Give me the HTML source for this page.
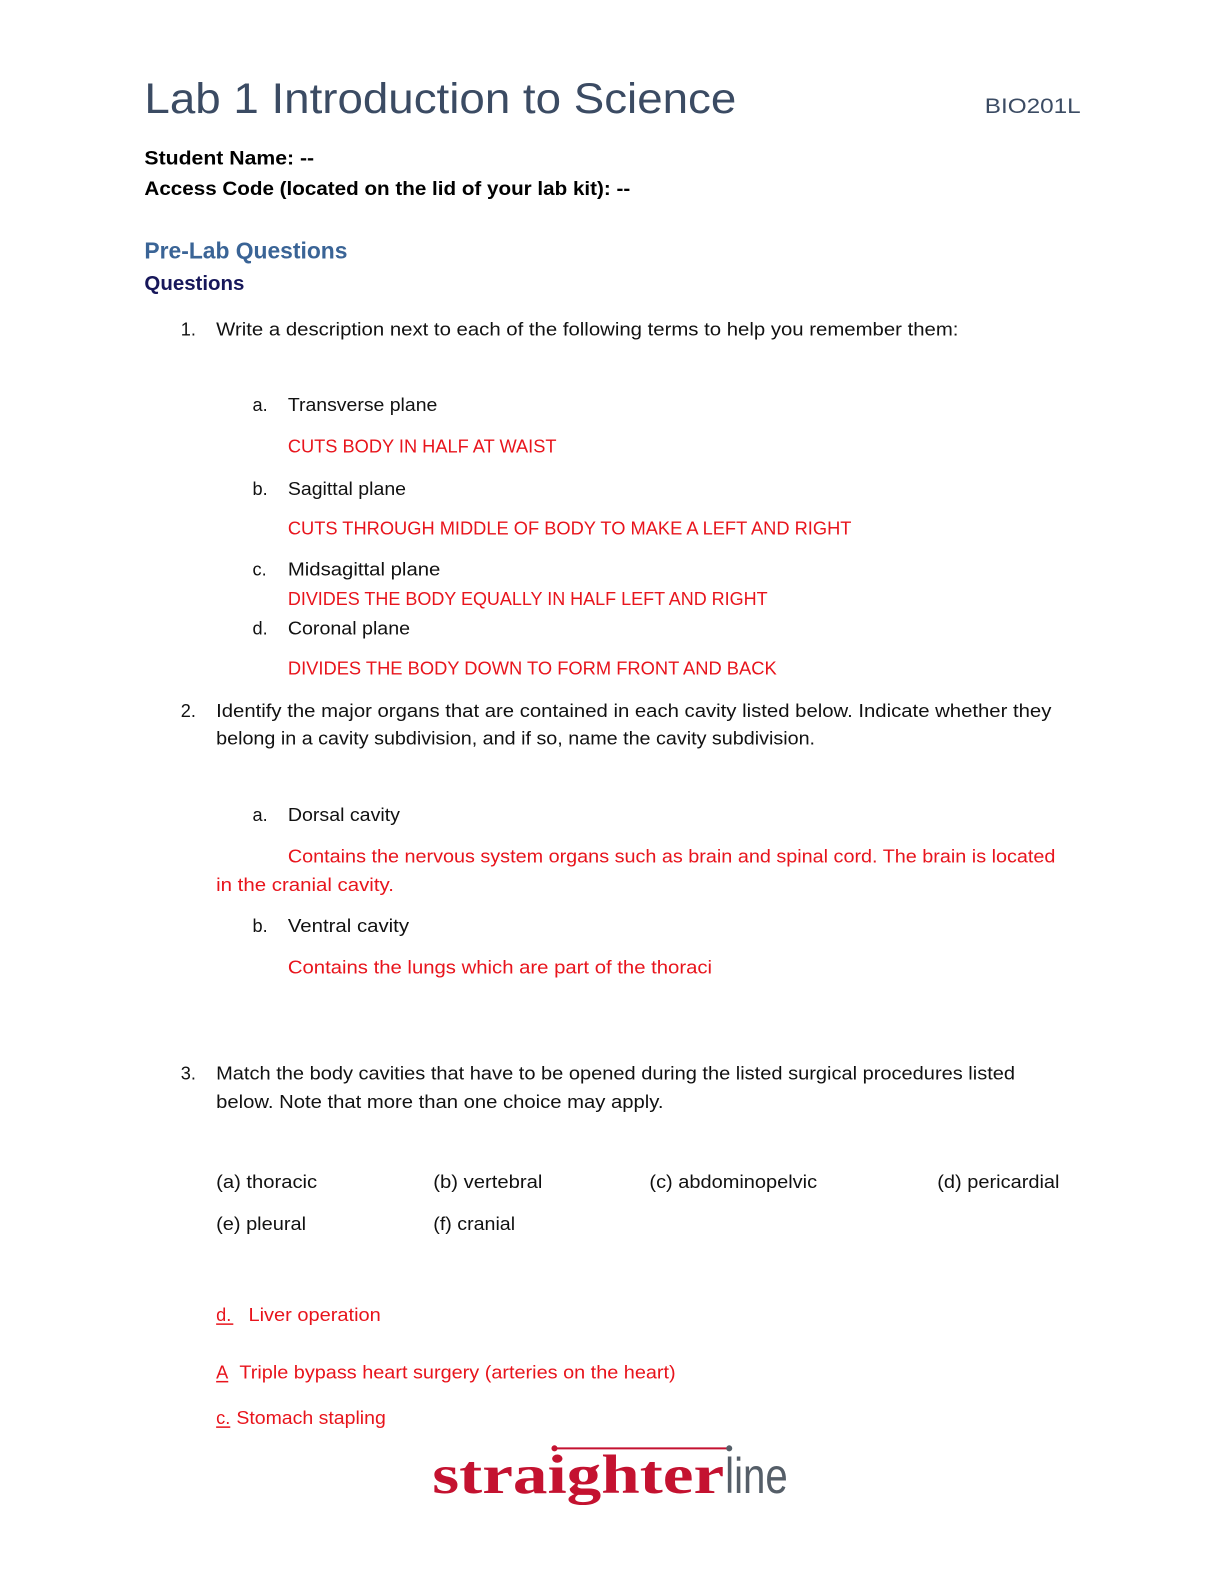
<!DOCTYPE html>
<html><head><meta charset="utf-8"><style>
html,body{margin:0;padding:0;background:#fff;width:1224px;height:1584px;overflow:hidden}
svg{display:block;position:absolute;left:0;top:0}
.b{font-family:"Liberation Sans",sans-serif;font-size:18px;fill:#111}
.r{fill:#e8141c}
</style></head><body>
<svg width="1224" height="1584" viewBox="0 0 1224 1584" xmlns="http://www.w3.org/2000/svg">
<g transform="scale(1.01)">
<text x="143" y="112" font-family="Liberation Sans,sans-serif" font-size="42" fill="#3b4b63" textLength="586" lengthAdjust="spacingAndGlyphs">Lab 1 Introduction to Science</text>
<text x="975" y="112" font-family="Liberation Sans,sans-serif" font-size="21" fill="#3b4b63" textLength="95" lengthAdjust="spacingAndGlyphs">BIO201L</text>
<g font-family="Liberation Sans,sans-serif" font-weight="bold" font-size="19" fill="#000">
<text x="143" y="163" textLength="168" lengthAdjust="spacingAndGlyphs">Student Name: --</text>
<text x="143" y="193" textLength="481" lengthAdjust="spacingAndGlyphs">Access Code (located on the lid of your lab kit): --</text>
</g>
<text x="143" y="256" font-family="Liberation Sans,sans-serif" font-weight="bold" font-size="23" fill="#3a6496" textLength="201" lengthAdjust="spacingAndGlyphs">Pre-Lab Questions</text>
<text x="143" y="287" font-family="Liberation Sans,sans-serif" font-weight="bold" font-size="20" fill="#17175a" textLength="99" lengthAdjust="spacingAndGlyphs">Questions</text>
<g class="b">
<text x="179" y="332">1.</text>
<text x="214" y="332" textLength="735" lengthAdjust="spacingAndGlyphs">Write a description next to each of the following terms to help you remember them:</text>
<text x="250" y="407">a.</text><text x="285" y="407" textLength="148" lengthAdjust="spacingAndGlyphs">Transverse plane</text>
<text x="285" y="448" class="r" textLength="266" lengthAdjust="spacingAndGlyphs">CUTS BODY IN HALF AT WAIST</text>
<text x="250" y="490">b.</text><text x="285" y="490" textLength="117" lengthAdjust="spacingAndGlyphs">Sagittal plane</text>
<text x="285" y="529" class="r" textLength="558" lengthAdjust="spacingAndGlyphs">CUTS THROUGH MIDDLE OF BODY TO MAKE A LEFT AND RIGHT</text>
<text x="250" y="570">c.</text><text x="285" y="570" textLength="151" lengthAdjust="spacingAndGlyphs">Midsagittal plane</text>
<text x="285" y="599" class="r" textLength="475" lengthAdjust="spacingAndGlyphs">DIVIDES THE BODY EQUALLY IN HALF LEFT AND RIGHT</text>
<text x="250" y="628">d.</text><text x="285" y="628" textLength="121" lengthAdjust="spacingAndGlyphs">Coronal plane</text>
<text x="285" y="668" class="r" textLength="484" lengthAdjust="spacingAndGlyphs">DIVIDES THE BODY DOWN TO FORM FRONT AND BACK</text>
<text x="179" y="710">2.</text>
<text x="214" y="710" textLength="827" lengthAdjust="spacingAndGlyphs">Identify the major organs that are contained in each cavity listed below.  Indicate whether they</text>
<text x="214" y="737" textLength="593" lengthAdjust="spacingAndGlyphs">belong in a cavity subdivision, and if so, name the cavity subdivision.</text>
<text x="250" y="813">a.</text><text x="285" y="813" textLength="111" lengthAdjust="spacingAndGlyphs">Dorsal cavity</text>
<text x="285" y="854" class="r" textLength="760" lengthAdjust="spacingAndGlyphs">Contains the nervous system organs such as brain and spinal cord. The brain is located</text>
<text x="214" y="882" class="r" textLength="176" lengthAdjust="spacingAndGlyphs">in the cranial cavity.</text>
<text x="250" y="923">b.</text><text x="285" y="923" textLength="120" lengthAdjust="spacingAndGlyphs">Ventral cavity</text>
<text x="285" y="964" class="r" textLength="420" lengthAdjust="spacingAndGlyphs">Contains the lungs which are part of the thoraci</text>
<text x="179" y="1069">3.</text>
<text x="214" y="1069" textLength="791" lengthAdjust="spacingAndGlyphs">Match the body cavities that have to be opened during the listed surgical procedures listed</text>
<text x="214" y="1097" textLength="443" lengthAdjust="spacingAndGlyphs">below. Note that more than one choice may apply.</text>
<text x="214" y="1176" textLength="100" lengthAdjust="spacingAndGlyphs">(a) thoracic</text>
<text x="429" y="1176" textLength="108" lengthAdjust="spacingAndGlyphs">(b) vertebral</text>
<text x="643" y="1176" textLength="166" lengthAdjust="spacingAndGlyphs">(c) abdominopelvic</text>
<text x="928" y="1176" textLength="121" lengthAdjust="spacingAndGlyphs">(d) pericardial</text>
<text x="214" y="1218" textLength="89" lengthAdjust="spacingAndGlyphs">(e) pleural</text>
<text x="429" y="1218" textLength="81" lengthAdjust="spacingAndGlyphs">(f) cranial</text>
<text x="214" y="1308" class="r">d.</text><text x="246" y="1308" class="r" textLength="131" lengthAdjust="spacingAndGlyphs">Liver operation</text>
<text x="214" y="1365" class="r">A</text><text x="237" y="1365" class="r" textLength="432" lengthAdjust="spacingAndGlyphs">Triple bypass heart surgery (arteries on the heart)</text>
<text x="214" y="1410" class="r">c.</text><text x="234" y="1410" class="r" textLength="148" lengthAdjust="spacingAndGlyphs">Stomach stapling</text>
</g>
<g stroke="#e8141c" stroke-width="1.5">
<line x1="214" y1="1311" x2="231" y2="1311"/>
<line x1="214" y1="1368" x2="226" y2="1368"/>
<line x1="214" y1="1413" x2="228" y2="1413"/>
</g>
<line x1="549" y1="1434" x2="722" y2="1434" stroke="#c41230" stroke-width="2"/>
<circle cx="549" cy="1434" r="3" fill="#c41230"/><circle cx="722" cy="1434" r="3" fill="#555e68"/>
<text x="428" y="1478" font-family="Liberation Serif,serif" font-weight="bold" font-size="54" fill="#c41230" textLength="289" lengthAdjust="spacingAndGlyphs">straighter</text>
<text x="718" y="1478" font-family="Liberation Sans,sans-serif" font-size="50" fill="#555e68" textLength="62" lengthAdjust="spacingAndGlyphs">line</text>
</g>
</svg>
</body></html>
